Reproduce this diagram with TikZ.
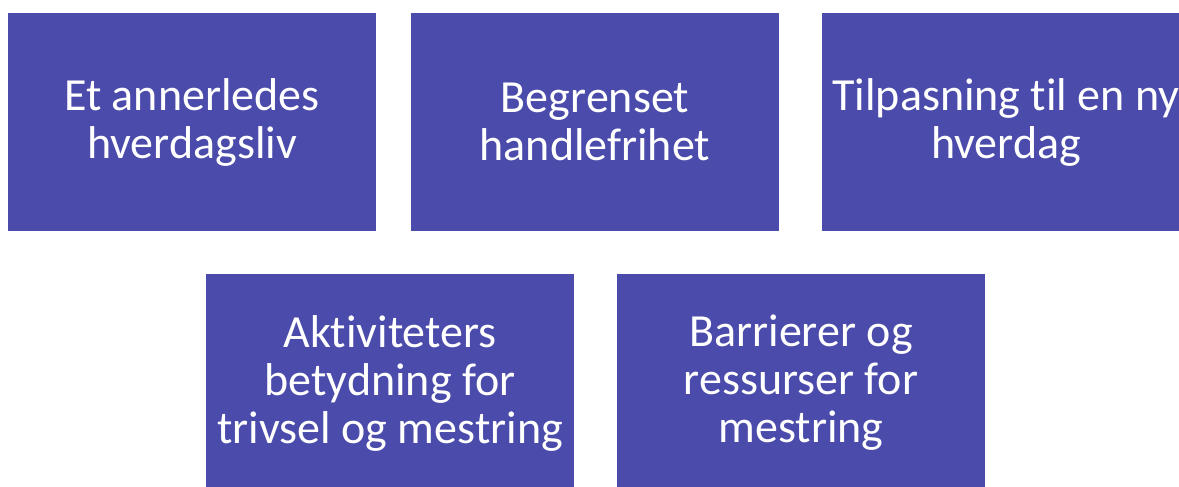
\documentclass[tikz,border=0pt]{standalone}
\usepackage{fontspec}
\setmainfont{Carlito}[Ligatures=NoCommon]
\definecolor{boxfill}{HTML}{4B4BAB}
\begin{document}
\begin{tikzpicture}[x=1pt,y=-1pt,
  theme/.style={rectangle, fill=boxfill, draw=none, inner sep=0pt,
    minimum width=368pt, minimum height=218pt, align=center,
    text=white, font=\fontsize{46}{48}\selectfont}]
  \useasboundingbox (0,0) rectangle (1179,487);
  \clip (0,0) rectangle (1179,487);
  % top row
  \node[theme] (a) at (192,122) {Et annerledes\\hverdagsliv};
  \node[theme] (b) at (595,122) {Begrenset\\handlefrihet};
  \node[theme] (c) at (1006,122) {Tilpasning til en ny\\hverdag};
  % bottom row
  \node[theme] (d) at (390,383) {Aktiviteters\\betydning for\\trivsel og mestring};
  \node[theme] (e) at (801,383) {Barrierer og\\ressurser for\\mestring};
\end{tikzpicture}
\end{document}
